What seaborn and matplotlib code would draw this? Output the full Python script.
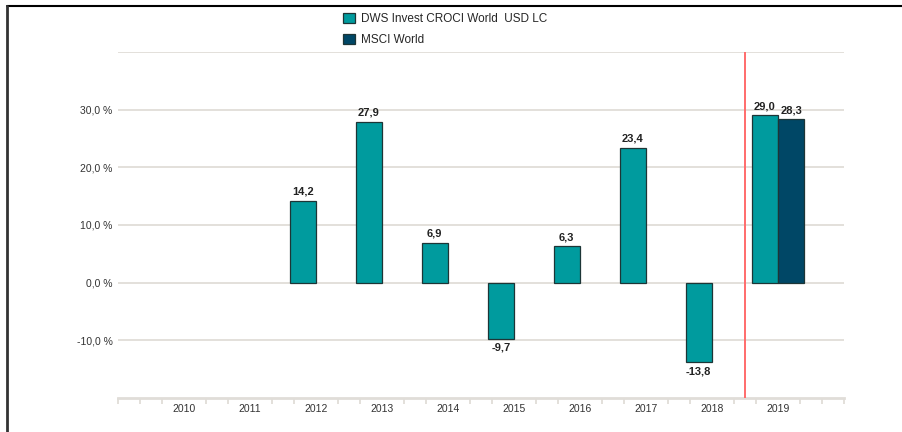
import numpy as np
import pandas as pd
import matplotlib
matplotlib.use("Agg")
import matplotlib.pyplot as plt
from matplotlib.lines import Line2D
from matplotlib.ticker import FixedLocator
import seaborn as sns

#################################################################
# Data
years = ['2010', '2011', '2012', '2013', '2014', '2015', '2016', '2017', '2018', '2019']
fund = [np.nan, np.nan, 14.2, 27.9, 6.9, -9.7, 6.3, 23.4, -13.8, 29.0]
msci = [np.nan, np.nan, np.nan, np.nan, np.nan, np.nan, np.nan, np.nan, np.nan, 28.3]
series_names = ['DWS Invest CROCI World  USD LC', 'MSCI World']
y_ticks = [-10, 0, 10, 20, 30, 40]
y_ticklabels = ['-10,0 %', '0,0 %', '10,0 %', '20,0 %', '30,0 %', '']
#################################################################

df = pd.DataFrame({
    'year': years * 2,
    'value': fund + msci,
    'series': [series_names[0]] * len(years) + [series_names[1]] * len(years),
})
df = df.dropna()

sns.set_style('white')
plt.rcParams['font.family'] = ['Liberation Sans', 'DejaVu Sans']

fig = plt.figure(figsize=(9.03, 4.32), dpi=100)
ax = fig.add_axes([118 / 903, 1 - 398 / 432, (844 - 118) / 903, (398 - 52) / 432])

colors = ['#009b9e', '#004766']
sns.barplot(data=df, x='year', y='value', hue='series', order=years,
            hue_order=series_names, palette=colors, width=0.8,
            edgecolor='#1d3536', linewidth=0.9, saturation=1, ax=ax,
            legend=False, zorder=3)

# value labels with comma decimals
for cont in ax.containers:
    labels = [f'{v:.1f}'.replace('.', ',') for v in cont.datavalues]
    ax.bar_label(cont, labels=labels, padding=3, fontsize=8,
                 fontweight='bold', color='#222222')

ax.set_xlim(-1, 10)
ax.set_ylim(-20, 40)
ax.set_xlabel('')
ax.set_ylabel('')

ax.set_yticks(y_ticks)
ax.set_yticklabels(y_ticklabels)
ax.yaxis.grid(True, color='#e0ddd8', lw=1.3, zorder=0)
ax.tick_params(axis='y', length=0, pad=4, labelsize=7.5, labelcolor='#333333')

# x axis: labels at centres, small ticks every third of a category
ax.tick_params(axis='x', which='major', length=0, pad=4, labelsize=7.5, labelcolor='#333333')
minor = [i / 3 for i in range(-3, 31) if i % 3 != 0 or i in (-3, 30)]
ax.xaxis.set_minor_locator(FixedLocator(minor))
ax.tick_params(axis='x', which='minor', length=4, width=1.3, color='#e0ddd8', bottom=True)

for s in ['top', 'right', 'left']:
    ax.spines[s].set_visible(False)
ax.spines['bottom'].set_color('#e0ddd8')
ax.spines['bottom'].set_linewidth(2)

# red separator before the current year
ax.axvline(8.5, color='#ff6b6b', lw=1.4, zorder=4)

# legend at the top
handles = [plt.Rectangle((0, 0), 1, 1, facecolor=c, edgecolor='#1d3536', lw=0.9) for c in colors]
fig.legend(handles, series_names, loc='upper left', bbox_to_anchor=(338 / 903, 1 - 8 / 432),
           frameon=False, fontsize=8.5, handlelength=1.0, handleheight=1.0,
           handletextpad=0.55, labelspacing=0.75, borderaxespad=0)

# outer frame lines (top and left)
fig.add_artist(Line2D([7 / 903, 1], [1 - 6 / 432] * 2, color='black', lw=1.5, transform=fig.transFigure))
fig.add_artist(Line2D([7 / 903, 7 / 903], [0, 1 - 6 / 432], color='#333333', lw=2, transform=fig.transFigure))

fig.savefig('out.png', dpi=100)
